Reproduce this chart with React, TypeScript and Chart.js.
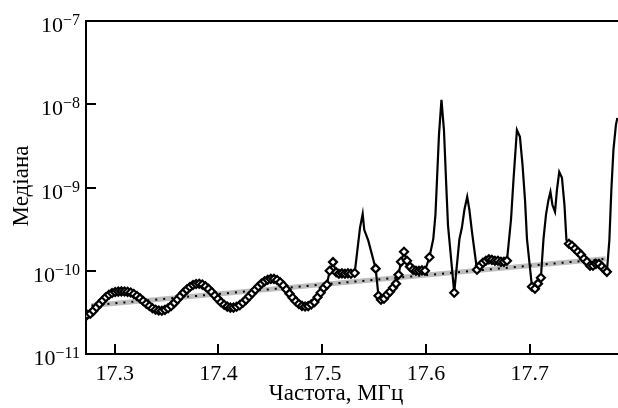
import React, { useEffect, useRef } from "react";
import { Chart, registerables } from "chart.js";

Chart.register(...registerables);

// Frequency, MHz
const freq: number[] = [
  17.2735, 17.2765, 17.2795, 17.2825, 17.2855, 17.2885, 17.2915, 17.2945, 17.2975, 17.3005,
  17.3035, 17.3065, 17.3095, 17.3125, 17.3155, 17.3185, 17.3215, 17.3245, 17.3275, 17.3305,
  17.3335, 17.3365, 17.3395, 17.3425, 17.3455, 17.3485, 17.3515, 17.3545, 17.3575, 17.3605,
  17.3635, 17.3665, 17.3695, 17.3725, 17.3755, 17.3785, 17.3815, 17.3845, 17.3875, 17.3905,
  17.3935, 17.3965, 17.3995, 17.4025, 17.4055, 17.4085, 17.4115, 17.4145, 17.4175, 17.4205,
  17.4235, 17.4265, 17.4295, 17.4325, 17.4355, 17.4385, 17.4415, 17.4445, 17.4475, 17.4505,
  17.4535, 17.4565, 17.4595, 17.4625, 17.4655, 17.4685, 17.4715, 17.4745, 17.4775, 17.4805,
  17.4835, 17.4865, 17.4895, 17.4925, 17.4955, 17.4985, 17.5015, 17.5045, 17.5072, 17.5104,
  17.5135, 17.5161, 17.519, 17.5219, 17.5248, 17.5277, 17.5313, 17.5364, 17.539, 17.5405,
  17.5444, 17.5515, 17.5542, 17.5566, 17.5595, 17.5624, 17.5653, 17.5682, 17.5711, 17.5735,
  17.5759, 17.5788, 17.5817, 17.5846, 17.5875, 17.5903, 17.5932, 17.5961, 17.599, 17.6033,
  17.607, 17.6091, 17.6106, 17.6125, 17.6149, 17.6173, 17.6197, 17.6212, 17.6272, 17.6322,
  17.6346, 17.637, 17.6397, 17.6418, 17.6443, 17.6491, 17.652, 17.6548, 17.6577, 17.6606,
  17.6635, 17.6664, 17.6693, 17.6722, 17.6751, 17.678, 17.6819, 17.6843, 17.6876, 17.6905,
  17.693, 17.6954, 17.6973, 17.7021, 17.705, 17.7079, 17.7107, 17.7132, 17.7156, 17.718,
  17.7199, 17.7218, 17.7243, 17.7262, 17.7284, 17.731, 17.7334, 17.7353, 17.7377, 17.7406,
  17.7435, 17.7464, 17.7493, 17.7522, 17.7551, 17.758, 17.7609, 17.7637, 17.7666, 17.7695,
  17.7724, 17.7743, 17.7767, 17.7786, 17.7806, 17.783, 17.7844,
];

// Median values
const median: number[] = [
  2.95e-11, 3.05e-11, 3.3e-11, 3.65e-11, 4.0e-11, 4.4e-11, 4.8e-11, 5.15e-11, 5.4e-11, 5.55e-11,
  5.62e-11, 5.65e-11, 5.63e-11, 5.58e-11, 5.47e-11, 5.26e-11, 4.98e-11, 4.66e-11, 4.33e-11, 4.02e-11,
  3.77e-11, 3.55e-11, 3.4e-11, 3.33e-11, 3.31e-11, 3.39e-11, 3.55e-11, 3.78e-11, 4.11e-11, 4.51e-11,
  4.98e-11, 5.46e-11, 5.93e-11, 6.38e-11, 6.73e-11, 6.93e-11, 6.98e-11, 6.82e-11, 6.49e-11, 6.05e-11,
  5.56e-11, 5.05e-11, 4.58e-11, 4.19e-11, 3.9e-11, 3.71e-11, 3.61e-11, 3.61e-11, 3.7e-11, 3.86e-11,
  4.12e-11, 4.47e-11, 4.9e-11, 5.37e-11, 5.92e-11, 6.46e-11, 7.0e-11, 7.46e-11, 7.8e-11, 7.98e-11,
  7.98e-11, 7.74e-11, 7.26e-11, 6.64e-11, 5.96e-11, 5.31e-11, 4.73e-11, 4.3e-11, 3.98e-11, 3.78e-11,
  3.72e-11, 3.76e-11, 3.95e-11, 4.2e-11, 4.8e-11, 5.45e-11, 6.2e-11, 6.8e-11, 1.0e-10, 1.27e-10,
  9.6e-11, 9.2e-11, 9.3e-11, 9.2e-11, 9.3e-11, 9.2e-11, 9.4e-11, 3.28e-10, 4.83e-10, 3.1e-10,
  2.3e-10, 1.06e-10, 5.0e-11, 4.49e-11, 4.61e-11, 5.15e-11, 5.6e-11, 6.25e-11, 7.0e-11, 8.95e-11,
  1.28e-10, 1.69e-10, 1.32e-10, 1.12e-10, 1.03e-10, 1.0e-10, 1.0e-10, 1.01e-10, 1.0e-10, 1.45e-10,
  2.4e-10, 4.7e-10, 1.24e-9, 4.28e-9, 1.13e-8, 4.9e-9, 9.4e-10, 3.5e-10, 5.45e-11, 2.4e-10,
  3.3e-10, 5.4e-10, 7.73e-10, 5.4e-10, 2.94e-10, 1.03e-10, 1.15e-10, 1.25e-10, 1.32e-10, 1.37e-10,
  1.35e-10, 1.32e-10, 1.32e-10, 1.28e-10, 1.28e-10, 1.32e-10, 4.1e-10, 1.24e-9, 4.9e-9, 4.06e-9,
  1.87e-9, 7.1e-10, 2.4e-10, 6.43e-11, 6.08e-11, 7.0e-11, 8.24e-11, 2.4e-10, 4.7e-10, 7.1e-10,
  8.87e-10, 6.2e-10, 5.1e-10, 9.4e-10, 1.54e-9, 1.31e-9, 6.2e-10, 2.35e-10, 2.11e-10, 2.0e-10,
  1.84e-10, 1.69e-10, 1.56e-10, 1.39e-10, 1.28e-10, 1.15e-10, 1.15e-10, 1.21e-10, 1.21e-10, 1.12e-10,
  1.03e-10, 9.7e-11, 2.35e-10, 9.4e-10, 2.83e-9, 5.65e-9, 6.85e-9,
];

// Trend line (two end points)
const trendFreq: number[] = [17.2777, 17.7731];
const trendValue: number[] = [3.83e-11, 1.39e-10];

// Axis ticks
const xTicks: number[] = [17.3, 17.4, 17.5, 17.6, 17.7];
const xTickLabels: string[] = ["17.3", "17.4", "17.5", "17.6", "17.7"];
const yExponents: number[] = [-7, -8, -9, -10, -11];

const xTitle = "Частота, МГц";
const yTitle = "Медіана";
const markerThreshold = 2.2e-10;

const FONT = '"Liberation Serif", "Times New Roman", serif';

export default function App() {
  const ref = useRef<HTMLCanvasElement | null>(null);

  useEffect(() => {
    if (!ref.current) return;
    const decor = {
      id: "decor",
      afterDraw(chart: any) {
        const ctx = chart.ctx;
        const { left, right, top, bottom } = chart.chartArea;
        const xs = chart.scales.x;
        const ys = chart.scales.y;
        ctx.save();
        ctx.strokeStyle = "#000";
        ctx.fillStyle = "#000";
        ctx.lineWidth = 2;
        // top frame
        ctx.beginPath();
        ctx.moveTo(left - 1, top);
        ctx.lineTo(right, top);
        ctx.stroke();
        // inner ticks on y
        yExponents.forEach((e) => {
          const y = Math.round(ys.getPixelForValue(Math.pow(10, e)));
          ctx.beginPath();
          ctx.moveTo(left, y);
          ctx.lineTo(left + 10, y);
          ctx.stroke();
        });
        // inner ticks on x
        xTicks.forEach((v) => {
          const x = Math.round(xs.getPixelForValue(v));
          ctx.beginPath();
          ctx.moveTo(x, bottom);
          ctx.lineTo(x, bottom - 10);
          ctx.stroke();
        });
        // x tick labels
        ctx.font = `22px ${FONT}`;
        ctx.textAlign = "center";
        ctx.textBaseline = "alphabetic";
        xTicks.forEach((v, i) => {
          const x = xs.getPixelForValue(v);
          ctx.fillText(xTickLabels[i], x, 380);
        });
        // y tick labels 10^e
        yExponents.forEach((e) => {
          const y = ys.getPixelForValue(Math.pow(10, e));
          const expText = "\u2212" + Math.abs(e);
          ctx.font = `16px ${FONT}`;
          const ew = ctx.measureText(expText).width;
          ctx.textAlign = "right";
          ctx.fillText(expText, left - 6, y + 4);
          ctx.font = `22px ${FONT}`;
          ctx.fillText("10", left - 6 - ew, y + 11);
        });
        // x title
        ctx.font = `23px ${FONT}`;
        ctx.textAlign = "center";
        ctx.fillText(xTitle, 336, 400);
        // y title
        ctx.translate(28, 186);
        ctx.rotate(-Math.PI / 2);
        ctx.fillText(yTitle, 0, 0);
        ctx.restore();
      },
    };

    const chart = new Chart(ref.current, {
      type: "line",
      data: {
        datasets: [
          {
            data: freq.map((f, i) => ({ x: f, y: median[i] })),
            borderColor: "#000",
            borderWidth: 2.2,
            tension: 0,
            pointStyle: "rectRot",
            pointRadius: (c: any) => (median[c.dataIndex] < markerThreshold ? 4 : 0),
            pointBackgroundColor: "#fff",
            pointBorderColor: "#000",
            pointBorderWidth: 2.2,
          },
          {
            data: trendFreq.map((f, i) => ({ x: f, y: trendValue[i] })),
            borderColor: "#000",
            borderWidth: 2,
            borderDash: [2, 6],
            borderCapStyle: "butt",
            pointRadius: 0,
          },
          {
            data: trendFreq.map((f, i) => ({ x: f, y: trendValue[i] })),
            borderColor: "#bdbdbd",
            borderWidth: 5,
            pointRadius: 0,
          },
        ],
      } as any,
      options: {
        responsive: false,
        animation: false,
        devicePixelRatio: 1,
        layout: { autoPadding: false, padding: { top: 21, right: 0, left: 0, bottom: 0 } },
        plugins: { legend: { display: false }, tooltip: { enabled: false }, title: { display: false } },
        scales: {
          x: {
            type: "linear",
            min: 17.2724,
            max: 17.785,
            ticks: { display: false },
            grid: { display: false },
            border: { display: true, color: "#000", width: 2 },
            afterFit: (s: any) => {
              s.height = 54;
            },
          },
          y: {
            type: "logarithmic",
            min: 1e-11,
            max: 1e-7,
            ticks: { display: false },
            grid: { display: false },
            border: { display: true, color: "#000", width: 2 },
            afterFit: (s: any) => {
              s.width = 86;
            },
          },
        },
      } as any,
      plugins: [decor],
    });
    return () => chart.destroy();
  }, []);

  return (
    <div style={{ position: "absolute", left: 0, top: 0, width: 618, height: 408, background: "#fff" }}>
      <canvas ref={ref} width={618} height={408} style={{ display: "block" }} />
    </div>
  );
}
